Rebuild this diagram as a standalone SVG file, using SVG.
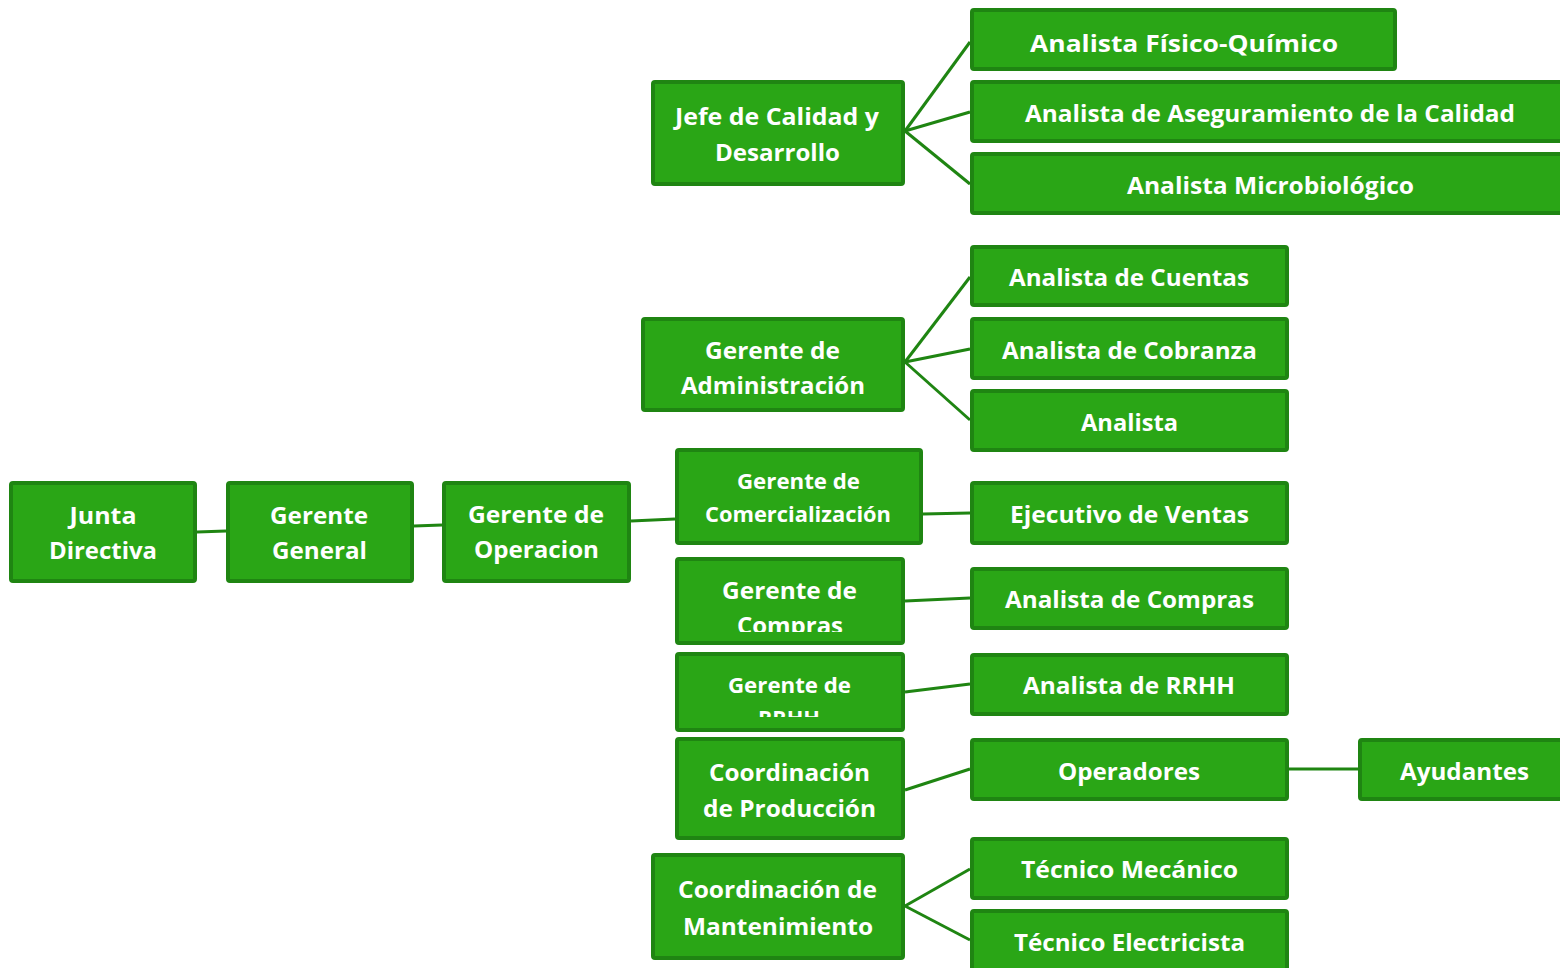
<svg xmlns="http://www.w3.org/2000/svg" width="1560" height="968" viewBox="0 0 1560 968">
  <style>
    .box { fill: #2aa616; stroke: #1f8512; stroke-width: 4; }
    .lbl { fill: #ffffff; font-family: "Open Sans", "Liberation Sans", sans-serif; font-weight: bold; font-size: 24px; text-anchor: middle; }
    .sm { font-size: 21px; }
    .conn { stroke: #1f8512; stroke-width: 3; fill: none; }
  </style>
  <defs>
    <clipPath id="clipCompras"><rect x="675" y="557" width="230" height="75"/></clipPath>
    <clipPath id="clipRRHH"><rect x="675" y="652" width="230" height="65"/></clipPath>
  </defs>
  <rect width="1560" height="968" fill="#ffffff"/>

  <g id="connectors">
    <line class="conn" x1="197" y1="532" x2="226" y2="531"/>
    <line class="conn" x1="414" y1="526" x2="442" y2="525"/>
    <line class="conn" x1="631" y1="521" x2="675" y2="519"/>
    <line class="conn" x1="905" y1="131" x2="970" y2="42"/>
    <line class="conn" x1="905" y1="131" x2="970" y2="112"/>
    <line class="conn" x1="905" y1="131" x2="970" y2="184"/>
    <line class="conn" x1="905" y1="362" x2="970" y2="277"/>
    <line class="conn" x1="905" y1="362" x2="970" y2="349"/>
    <line class="conn" x1="905" y1="362" x2="970" y2="420"/>
    <line class="conn" x1="923" y1="514" x2="970" y2="513"/>
    <line class="conn" x1="905" y1="601" x2="970" y2="598"/>
    <line class="conn" x1="905" y1="692" x2="970" y2="684"/>
    <line class="conn" x1="905" y1="790" x2="970" y2="769"/>
    <line class="conn" x1="1289" y1="769" x2="1358" y2="769"/>
    <line class="conn" x1="905" y1="906" x2="970" y2="869"/>
    <line class="conn" x1="905" y1="906" x2="970" y2="940"/>
  </g>

  <g id="junta-directiva">
    <rect class="box" x="11" y="483" width="184" height="98" rx="2"/>
    <text class="lbl" x="103" y="524" textLength="67" lengthAdjust="spacingAndGlyphs">Junta</text>
    <text class="lbl" x="103" y="559" textLength="108" lengthAdjust="spacingAndGlyphs">Directiva</text>
  </g>
  <g id="gerente-general">
    <rect class="box" x="228" y="483" width="184" height="98" rx="2"/>
    <text class="lbl" x="319" y="524" textLength="98" lengthAdjust="spacingAndGlyphs">Gerente</text>
    <text class="lbl" x="319.5" y="559" textLength="95" lengthAdjust="spacingAndGlyphs">General</text>
  </g>
  <g id="gerente-operacion">
    <rect class="box" x="444" y="483" width="185" height="98" rx="2"/>
    <text class="lbl" x="536" y="523" textLength="136" lengthAdjust="spacingAndGlyphs">Gerente de</text>
    <text class="lbl" x="536.5" y="558" textLength="125" lengthAdjust="spacingAndGlyphs">Operacion</text>
  </g>

  <g id="jefe-calidad">
    <rect class="box" x="653" y="82" width="250" height="102" rx="2"/>
    <text class="lbl" x="777" y="125" textLength="204" lengthAdjust="spacingAndGlyphs">Jefe de Calidad y</text>
    <text class="lbl" x="777.5" y="161" textLength="125" lengthAdjust="spacingAndGlyphs">Desarrollo</text>
  </g>
  <g id="analista-fisico-quimico">
    <rect class="box" x="972" y="10" width="423" height="59" rx="2"/>
    <text class="lbl" x="1184" y="52" textLength="308" lengthAdjust="spacingAndGlyphs">Analista Físico-Químico</text>
  </g>
  <g id="analista-aseguramiento">
    <rect class="box" x="972" y="82" width="600" height="59" rx="2"/>
    <text class="lbl" x="1270" y="122" textLength="490" lengthAdjust="spacingAndGlyphs">Analista de Aseguramiento de la Calidad</text>
  </g>
  <g id="analista-microbiologico">
    <rect class="box" x="972" y="154" width="600" height="59" rx="2"/>
    <text class="lbl" x="1270.5" y="194" textLength="287" lengthAdjust="spacingAndGlyphs">Analista Microbiológico</text>
  </g>

  <g id="gerente-administracion">
    <rect class="box" x="643" y="319" width="260" height="91" rx="2"/>
    <text class="lbl" x="772.5" y="359" textLength="135" lengthAdjust="spacingAndGlyphs">Gerente de</text>
    <text class="lbl" x="773" y="394" textLength="184" lengthAdjust="spacingAndGlyphs">Administración</text>
  </g>
  <g id="analista-cuentas">
    <rect class="box" x="972" y="247" width="315" height="58" rx="2"/>
    <text class="lbl" x="1129" y="286" textLength="240" lengthAdjust="spacingAndGlyphs">Analista de Cuentas</text>
  </g>
  <g id="analista-cobranza">
    <rect class="box" x="972" y="319" width="315" height="59" rx="2"/>
    <text class="lbl" x="1129.5" y="359" textLength="255" lengthAdjust="spacingAndGlyphs">Analista de Cobranza</text>
  </g>
  <g id="analista">
    <rect class="box" x="972" y="391" width="315" height="59" rx="2"/>
    <text class="lbl" x="1129.5" y="431" textLength="97" lengthAdjust="spacingAndGlyphs">Analista</text>
  </g>

  <g id="gerente-comercializacion">
    <rect class="box" x="677" y="450" width="244" height="93" rx="2"/>
    <text class="lbl sm" x="798.5" y="489" textLength="123" lengthAdjust="spacingAndGlyphs">Gerente de</text>
    <text class="lbl sm" x="798" y="522" textLength="186" lengthAdjust="spacingAndGlyphs">Comercialización</text>
  </g>
  <g id="ejecutivo-ventas">
    <rect class="box" x="972" y="483" width="315" height="60" rx="2"/>
    <text class="lbl" x="1129.5" y="523" textLength="239" lengthAdjust="spacingAndGlyphs">Ejecutivo de Ventas</text>
  </g>

  <g id="gerente-compras">
    <rect class="box" x="677" y="559" width="226" height="84" rx="2"/>
    <g clip-path="url(#clipCompras)">
      <text class="lbl" x="789.5" y="599" textLength="135" lengthAdjust="spacingAndGlyphs">Gerente de</text>
      <text class="lbl" x="790" y="634" textLength="106" lengthAdjust="spacingAndGlyphs">Compras</text>
    </g>
  </g>
  <g id="analista-compras">
    <rect class="box" x="972" y="569" width="315" height="59" rx="2"/>
    <text class="lbl" x="1129.5" y="608" textLength="249" lengthAdjust="spacingAndGlyphs">Analista de Compras</text>
  </g>

  <g id="gerente-rrhh">
    <rect class="box" x="677" y="654" width="226" height="76" rx="2"/>
    <g clip-path="url(#clipRRHH)">
      <text class="lbl sm" x="789.5" y="693" textLength="123" lengthAdjust="spacingAndGlyphs">Gerente de</text>
      <text class="lbl sm" x="789" y="726" textLength="62" lengthAdjust="spacingAndGlyphs">RRHH</text>
    </g>
  </g>
  <g id="analista-rrhh">
    <rect class="box" x="972" y="655" width="315" height="59" rx="2"/>
    <text class="lbl" x="1129" y="694" textLength="212" lengthAdjust="spacingAndGlyphs">Analista de RRHH</text>
  </g>

  <g id="coordinacion-produccion">
    <rect class="box" x="677" y="739" width="226" height="99" rx="2"/>
    <text class="lbl" x="789.5" y="781" textLength="161" lengthAdjust="spacingAndGlyphs">Coordinación</text>
    <text class="lbl" x="789.5" y="817" textLength="173" lengthAdjust="spacingAndGlyphs">de Producción</text>
  </g>
  <g id="operadores">
    <rect class="box" x="972" y="740" width="315" height="59" rx="2"/>
    <text class="lbl" x="1129" y="780" textLength="142" lengthAdjust="spacingAndGlyphs">Operadores</text>
  </g>
  <g id="ayudantes">
    <rect class="box" x="1360" y="740" width="212" height="59" rx="2"/>
    <text class="lbl" x="1464.5" y="780" textLength="129" lengthAdjust="spacingAndGlyphs">Ayudantes</text>
  </g>

  <g id="coordinacion-mantenimiento">
    <rect class="box" x="653" y="855" width="250" height="103" rx="2"/>
    <text class="lbl" x="777.5" y="898" textLength="199" lengthAdjust="spacingAndGlyphs">Coordinación de</text>
    <text class="lbl" x="778" y="935" textLength="190" lengthAdjust="spacingAndGlyphs">Mantenimiento</text>
  </g>
  <g id="tecnico-mecanico">
    <rect class="box" x="972" y="839" width="315" height="59" rx="2"/>
    <text class="lbl" x="1129.5" y="878" textLength="217" lengthAdjust="spacingAndGlyphs">Técnico Mecánico</text>
  </g>
  <g id="tecnico-electricista">
    <rect class="box" x="972" y="911" width="315" height="70" rx="2"/>
    <text class="lbl" x="1129.5" y="951" textLength="231" lengthAdjust="spacingAndGlyphs">Técnico Electricista</text>
  </g>
</svg>
